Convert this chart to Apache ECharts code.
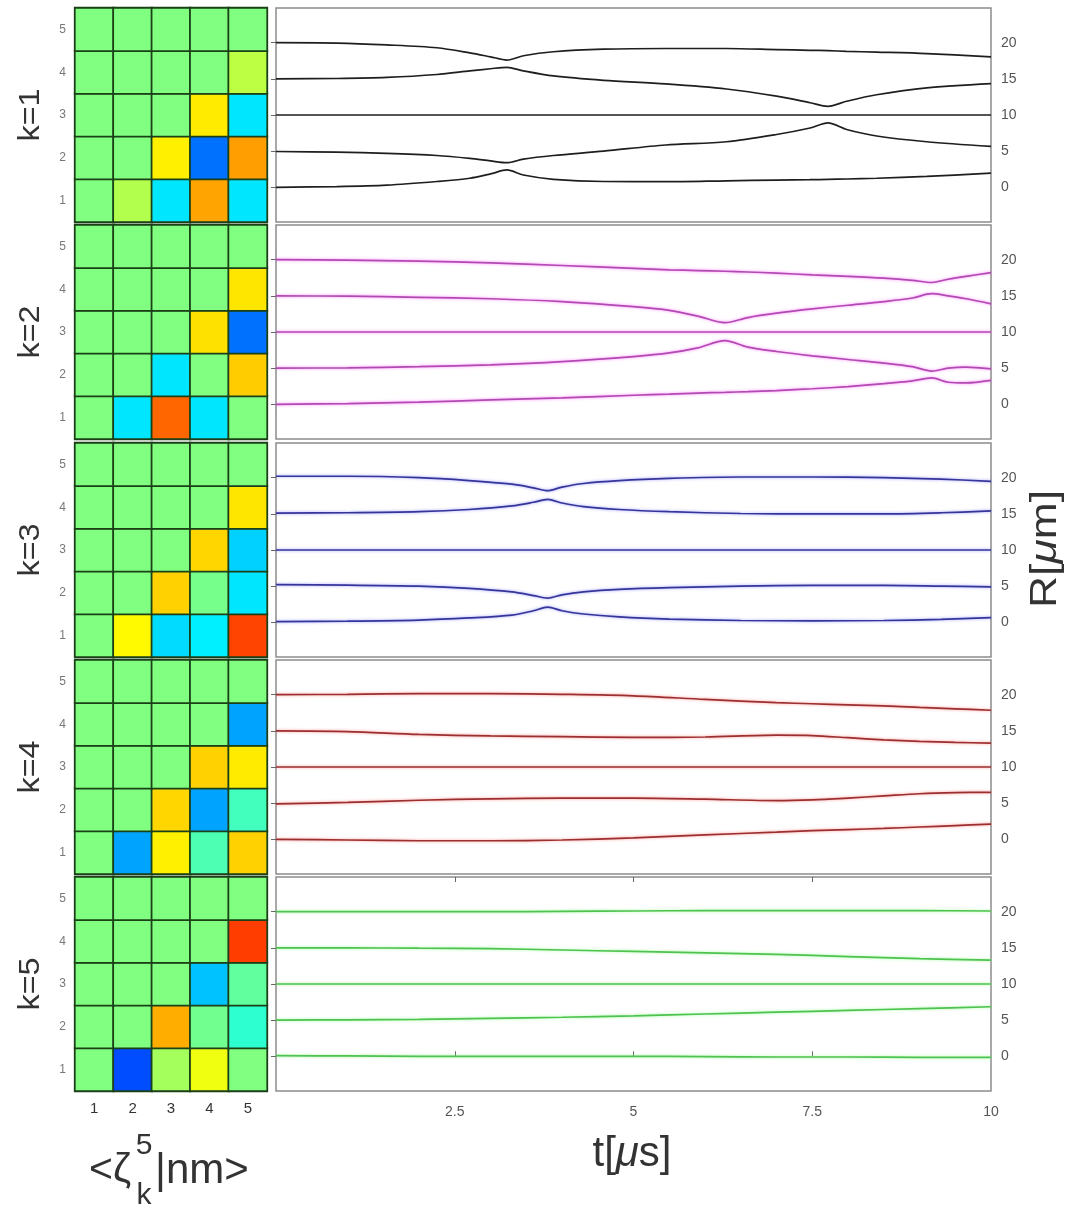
<!DOCTYPE html>
<html><head><meta charset="utf-8">
<script src="https://cdn.jsdelivr.net/npm/echarts@6/dist/echarts.min.js"></script>
<style>html,body{margin:0;padding:0;background:#fff}#c{width:1071px;height:1211px}</style>
</head><body><div id="c"></div>
<script>
// ---------- labels / ticks ----------
const cells = ['1', '2', '3', '4', '5'];
const kLabels = ['k=1', 'k=2', 'k=3', 'k=4', 'k=5'];
const rTicks = [0, 5, 10, 15, 20];
const tTicks = [2.5, 5, 7.5, 10];
const tTickMarks = [2.5, 5, 7.5];

// ---------- heatmap values <zeta_k^5|nm>, rows y=1..5 (bottom->top), cols x=1..5 ----------
const hmK1 = [
  [0, 0.10, -0.30, 0.43, -0.30],
  [0, 0, 0.28, -0.53, 0.44],
  [0, 0, 0, 0.29, -0.30],
  [0, 0, 0, 0, 0.12],
  [0, 0, 0, 0, 0]
];
const hmK2 = [
  [0, -0.30, 0.55, -0.30, 0],
  [0, 0, -0.30, 0, 0.35],
  [0, 0, 0, 0.31, -0.53],
  [0, 0, 0, 0, 0.30],
  [0, 0, 0, 0, 0]
];
const hmK3 = [
  [0, 0.26, -0.32, -0.28, 0.62],
  [0, 0, 0.34, -0.02, -0.30],
  [0, 0, 0, 0.33, -0.34],
  [0, 0, 0, 0, 0.30],
  [0, 0, 0, 0, 0]
];
const hmK4 = [
  [0, -0.43, 0.28, -0.10, 0.34],
  [0, 0, 0.33, -0.43, -0.12],
  [0, 0, 0, 0.34, 0.29],
  [0, 0, 0, 0, -0.43],
  [0, 0, 0, 0, 0]
];
const hmK5 = [
  [0, -0.60, 0.07, 0.22, 0],
  [0, 0, 0.41, -0.03, -0.16],
  [0, 0, 0, -0.37, -0.06],
  [0, 0, 0, 0, 0.63],
  [0, 0, 0, 0, 0]
];

// ---------- R(t) curves, t in microseconds ----------
const tK1 = [0, 0.85, 1.55, 2.25, 2.71, 3.0, 3.23, 3.46, 3.88, 4.58, 5.45, 6.3, 7.0, 7.47, 7.72, 7.98, 8.4, 9.1, 10];
const k1R1 = [0, 0.1, 0.3, 0.8, 1.25, 1.85, 2.4, 1.7, 1.1, 0.8, 0.78, 0.9, 1.0, 1.05, 1.1, 1.15, 1.25, 1.5, 1.95];
const k1R2 = [4.95, 4.86, 4.7, 4.4, 4.0, 3.65, 3.4, 3.9, 4.4, 5.0, 5.85, 6.3, 7.3, 8.2, 8.9, 8.0, 7.1, 6.3, 5.65];
const k1R3 = [10, 10, 10, 10, 10, 10, 10, 10, 10, 10, 10, 10, 10, 10, 10, 10, 10, 10, 10];
const k1R4 = [15.0, 15.05, 15.2, 15.6, 16.1, 16.4, 16.6, 16.1, 15.4, 14.8, 14.3, 13.6, 12.6, 11.7, 11.2, 11.9, 12.8, 13.75, 14.35];
const k1R5 = [20.0, 19.95, 19.7, 19.3, 18.6, 18.05, 17.6, 18.2, 18.75, 19.1, 19.2, 19.2, 19.05, 18.95, 18.9, 18.8, 18.7, 18.5, 18.05];

const tK2 = [0, 1, 2, 3, 4, 5, 5.5, 5.9, 6.28, 6.6, 7, 7.5, 8, 8.5, 8.9, 9.17, 9.4, 9.65, 10];
const k2R1 = [0, 0.1, 0.3, 0.6, 0.9, 1.25, 1.4, 1.55, 1.65, 1.75, 1.9, 2.15, 2.45, 2.85, 3.25, 3.65, 3.05, 2.95, 3.3];
const k2R2 = [5.0, 5.05, 5.2, 5.45, 5.9, 6.6, 7.1, 7.8, 8.8, 7.9, 7.3, 6.7, 6.2, 5.7, 5.2, 4.6, 5.0, 5.15, 4.9];
const k2R3 = [10, 10, 10, 10, 10, 10, 10, 10, 10, 10, 10, 10, 10, 10, 10, 10, 10, 10, 10];
const k2R4 = [15.0, 14.95, 14.8, 14.6, 14.2, 13.5, 13.0, 12.2, 11.3, 12.0, 12.6, 13.2, 13.7, 14.2, 14.7, 15.3, 15.0, 14.6, 13.9];
const k2R5 = [20.0, 19.95, 19.8, 19.55, 19.2, 18.8, 18.6, 18.5, 18.4, 18.3, 18.15, 17.9, 17.7, 17.45, 17.15, 16.85, 17.3, 17.7, 18.2];

const tK3 = [0, 1, 2, 2.7, 3.3, 3.6, 3.8, 4.0, 4.3, 4.8, 5.5, 6.5, 7.5, 8.5, 9.3, 10];
const k3R1 = [0.1, 0.15, 0.3, 0.6, 1.0, 1.6, 2.1, 1.6, 1.15, 0.75, 0.45, 0.25, 0.2, 0.25, 0.4, 0.65];
const k3R2 = [5.2, 5.15, 5.0, 4.7, 4.2, 3.7, 3.35, 3.8, 4.2, 4.55, 4.8, 5.0, 5.1, 5.1, 5.0, 4.9];
const k3R3 = [10, 10, 10, 10, 10, 10, 10, 10, 10, 10, 10, 10, 10, 10, 10, 10];
const k3R4 = [15.1, 15.15, 15.3, 15.6, 16.1, 16.6, 17.0, 16.5, 16.0, 15.6, 15.3, 15.05, 15.0, 15.0, 15.15, 15.4];
const k3R5 = [20.2, 20.2, 20.0, 19.6, 19.1, 18.6, 18.2, 18.7, 19.2, 19.6, 19.9, 20.1, 20.1, 20.0, 19.8, 19.5];

const tK4 = [0, 1, 2, 3, 4, 5, 6, 7, 7.5, 8, 8.5, 9, 9.5, 10];
const k4R1 = [0, -0.1, -0.2, -0.2, -0.1, 0.2, 0.6, 1.0, 1.2, 1.35, 1.5, 1.7, 1.9, 2.1];
const k4R2 = [4.9, 5.1, 5.4, 5.6, 5.7, 5.7, 5.55, 5.35, 5.45, 5.7, 6.0, 6.3, 6.45, 6.5];
const k4R3 = [10, 10, 10, 10, 10, 10, 10, 10, 10, 10, 10, 10, 10, 10];
const k4R4 = [15.0, 14.9, 14.5, 14.3, 14.2, 14.1, 14.15, 14.4, 14.35, 14.05, 13.75, 13.55, 13.4, 13.3];
const k4R5 = [20.0, 20.05, 20.15, 20.15, 20.05, 19.85, 19.35, 18.9, 18.75, 18.6, 18.45, 18.25, 18.05, 17.85];

const tK5 = [0, 1, 2, 3, 4, 5, 6, 7, 8, 9, 10];
const k5R1 = [0.1, 0.05, 0, 0, 0, 0, -0.05, -0.1, -0.1, -0.15, -0.15];
const k5R2 = [5.0, 5.05, 5.1, 5.25, 5.4, 5.6, 5.85, 6.1, 6.35, 6.6, 6.85];
const k5R3 = [10, 10, 10, 10, 10, 10, 10, 10, 10, 10, 10];
const k5R4 = [15.0, 15.0, 14.95, 14.9, 14.7, 14.5, 14.3, 14.1, 13.8, 13.5, 13.3];
const k5R5 = [20.0, 20.0, 20.0, 20.0, 20.05, 20.1, 20.15, 20.15, 20.15, 20.15, 20.1];

// ---------- assemble ----------
const heatmaps = [hmK1, hmK2, hmK3, hmK4, hmK5];
const times = [tK1, tK2, tK3, tK4, tK5];
const curves = [
  [k1R1, k1R2, k1R3, k1R4, k1R5],
  [k2R1, k2R2, k2R3, k2R4, k2R5],
  [k3R1, k3R2, k3R3, k3R4, k3R5],
  [k4R1, k4R2, k4R3, k4R4, k4R5],
  [k5R1, k5R2, k5R3, k5R4, k5R5]
];
const lineColors = ['#1e1e1e', '#b34ab3', '#36369a', '#9c3030', '#4fc24f'];
const glowColors = ['rgba(0,0,0,0)', 'rgba(255,80,255,0.7)', 'rgba(90,90,255,0.6)', 'rgba(255,80,80,0.6)', 'rgba(120,255,120,0.7)'];
const jet = ['#000080', '#0000ff', '#0080ff', '#00ffff', '#80ff80', '#ffff00', '#ff8000', '#ff0000', '#800000'];

const FONT = 'Liberation Sans, Arial, Helvetica, sans-serif';
const tops = [8, 225, 443, 660, 877];
const H = 214;

const grid = [], xAxis = [], yAxis = [], series = [], graphic = [];
for (let i = 0; i < 5; i++) {
  grid.push({ left: 75, top: tops[i], width: 192, height: H, show: true, borderColor: '#35522f', borderWidth: 1.5, backgroundColor: 'transparent' });
  grid.push({ left: 276, top: tops[i], width: 715, height: H, show: true, borderColor: '#8c8c8c', borderWidth: 1.5, backgroundColor: '#fff' });
  const last = i === 4;
  xAxis.push({
    gridIndex: 2 * i, type: 'category', data: cells,
    axisLine: { show: false }, axisTick: { show: false }, splitLine: { show: false },
    axisLabel: { show: last, fontSize: 15, color: '#333', margin: 10, fontFamily: FONT }
  });
  xAxis.push({
    gridIndex: 2 * i + 1, type: 'value', min: 0, max: 10,
    axisLine: { show: false }, splitLine: { show: false },
    axisTick: { show: last, inside: true, length: 5, customValues: tTickMarks, lineStyle: { color: '#666' } },
    axisLabel: { show: last, customValues: tTicks, fontSize: 14, color: '#555', margin: 14, fontFamily: FONT }
  });
  yAxis.push({
    gridIndex: 2 * i, type: 'category', data: cells,
    axisLine: { show: false }, axisTick: { show: false }, splitLine: { show: false },
    axisLabel: { fontSize: 12, color: '#777', margin: 9, fontFamily: FONT }
  });
  yAxis.push({
    gridIndex: 2 * i + 1, type: 'value', position: 'right', min: -4.8, max: 24.8,
    axisLine: { show: false }, splitLine: { show: false },
    axisTick: { show: true, inside: true, length: 5, customValues: rTicks, lineStyle: { color: '#666' } },
    axisLabel: { customValues: rTicks, fontSize: 14, color: '#555', margin: 10, fontFamily: FONT }
  });
  graphic.push({
    type: 'text', x: 31, y: tops[i] + H / 2, rotation: Math.PI / 2, scaleX: 1.08,
    style: { text: kLabels[i], font: '30px ' + FONT, fill: '#333', align: 'center', verticalAlign: 'middle' }
  });
}
// top tick marks of the bottom panel
xAxis.push({
  gridIndex: 9, type: 'value', position: 'top', min: 0, max: 10,
  axisLine: { show: false }, splitLine: { show: false }, axisLabel: { show: false },
  axisTick: { show: true, inside: true, length: 5, customValues: tTickMarks, lineStyle: { color: '#666' } }
});

const heatIdx = [];
for (let i = 0; i < 5; i++) {
  const m = heatmaps[i], data = [];
  for (let y = 0; y < 5; y++) for (let x = 0; x < 5; x++) data.push([x, y, m[y][x]]);
  heatIdx.push(series.length);
  series.push({
    type: 'heatmap', xAxisIndex: 2 * i, yAxisIndex: 2 * i, data: data, silent: true,
    itemStyle: { borderColor: '#1b4018', borderWidth: 1.8 }
  });
}
for (let i = 0; i < 5; i++) {
  const t = times[i];
  curves[i].forEach(function (vals) {
    series.push({
      type: 'line', xAxisIndex: 2 * i + 1, yAxisIndex: 2 * i + 1, silent: true,
      showSymbol: false, smooth: 0.3, animation: false,
      data: t.map(function (tt, j) { return [tt, vals[j]]; }),
      lineStyle: { color: lineColors[i], width: 1.7, shadowColor: glowColors[i], shadowBlur: 3 }
    });
  });
}

// axis titles
graphic.push({
  type: 'text', x: 632, y: 1154,
  style: {
    text: '{a|t[}{b|μ}{a|s]}', align: 'center', verticalAlign: 'middle',
    rich: { a: { font: '42px ' + FONT, fill: '#333' }, b: { font: 'italic 42px ' + FONT, fill: '#333' } }
  }
});
graphic.push({
  type: 'text', x: 1046, y: 549, rotation: Math.PI / 2, scaleX: 1.2,
  style: {
    text: '{a|R[}{b|μ}{a|m]}', align: 'center', verticalAlign: 'middle',
    rich: { a: { font: '37px ' + FONT, fill: '#333' }, b: { font: 'italic 37px ' + FONT, fill: '#333' } }
  }
});
graphic.push({ type: 'text', x: 131, y: 1171, style: { text: '<ζ', font: '41px ' + FONT, fill: '#333', align: 'right', verticalAlign: 'middle' } });
graphic.push({ type: 'text', x: 144, y: 1146, style: { text: '5', font: '30px ' + FONT, fill: '#333', align: 'center', verticalAlign: 'middle' } });
graphic.push({ type: 'text', x: 144, y: 1196, style: { text: 'k', font: '30px ' + FONT, fill: '#333', align: 'center', verticalAlign: 'middle' } });
graphic.push({ type: 'text', x: 155, y: 1171, style: { text: '|nm>', font: '42px ' + FONT, fill: '#333', align: 'left', verticalAlign: 'middle' } });

const chart = echarts.init(document.getElementById('c'), null, { renderer: 'canvas' });
chart.setOption({
  backgroundColor: '#fff',
  animation: false,
  textStyle: { fontFamily: FONT },
  grid: grid, xAxis: xAxis, yAxis: yAxis,
  visualMap: { type: 'continuous', show: false, min: -1, max: 1, seriesIndex: heatIdx, inRange: { color: jet } },
  series: series,
  graphic: graphic
});
</script></body></html>
